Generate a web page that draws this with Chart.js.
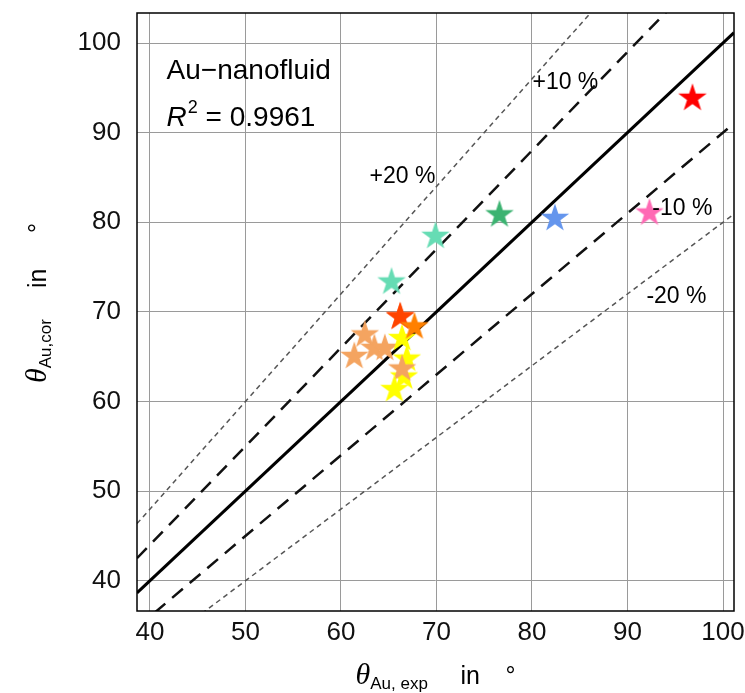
<!DOCTYPE html>
<html>
<head>
<meta charset="utf-8">
<script src="https://cdn.jsdelivr.net/npm/chart.js@4.4.1/dist/chart.umd.min.js"></script>
<style>
  body { margin: 0; background: #fff; }
  canvas { display: block; }
</style>
</head>
<body>
<canvas id="parityChart" width="745" height="693"></canvas>
<script>
// experimental vs. correlated contact angle (deg), one star per case
const expAngles = [66.2, 61.4, 62.5, 63.5, 64.6, 66.4, 66.9, 66.6, 66.4, 65.6, 66.2, 67.7, 65.3, 69.9, 76.6, 82.4, 92.3, 96.8];
const corAngles = [69.6, 65.2, 67.6, 66.1, 66.1, 67.2, 64.9, 62.9, 63.8, 61.5, 69.6, 68.5, 73.5, 78.6, 81.0, 80.6, 81.2, 94.0];
const starColors = ['#ff4500', '#f4a460', '#f4a460', '#f4a460', '#f4a460', '#ffff00', '#ffff00', '#ffff00', '#f4a460', '#ffff00',
                    '#ff4500', '#ff8000', '#66dcb4', '#66dcb4', '#3cb371', '#6495ed', '#ff69b4', '#ff0000'];

const xTicks = [40, 50, 60, 70, 80, 90, 100];
const yTicks = [40, 50, 60, 70, 80, 90, 100];
const xRange = [38.65, 101.15];
const yRange = [36.63, 103.35];

// deviation lines y = f * x
const bandFactors = [1.0, 1.1, 0.9, 1.2, 0.8];
const bandNames = ['0 %', '+10 %', '-10 %', '+20 %', '-20 %'];

const fitName = 'Au\u2212nanofluid';
const fitR2 = '0.9961';

function makeStar(color) {
    const r = 15;
    const c = document.createElement('canvas');
    c.width = c.height = 2 * r + 2;
    const g = c.getContext('2d');
    g.translate(r + 1, r + 1 + r * 0.095);
    g.beginPath();
    for (let i = 0; i < 10; i++) {
        const rad = i % 2 === 0 ? r : r * 0.382;
        const a = -Math.PI / 2 + i * Math.PI / 5;
        g.lineTo(rad * Math.cos(a), rad * Math.sin(a));
    }
    g.closePath();
    g.fillStyle = color;
    g.fill();
    return c;
}

const bandStyles = [
    { color: '#000', width: 3, dash: [] },
    { color: '#111', width: 2.5, dash: [14, 9] },
    { color: '#111', width: 2.5, dash: [14, 9] },
    { color: '#555', width: 1.5, dash: [5, 4] },
    { color: '#555', width: 1.5, dash: [5, 4] }
];

const bandDatasets = bandFactors.map((f, i) => ({
    label: bandNames[i],
    data: xRange.map(v => ({ x: v, y: f * v })),
    showLine: true,
    borderColor: bandStyles[i].color,
    borderWidth: bandStyles[i].width,
    borderDash: bandStyles[i].dash,
    pointRadius: 0,
    order: 2
}));

// label spots for the band names (data units)
const bandLabelSpots = [null, [80.05, 94.84], [92.6, 80.78], [63.0, 84.35], [91.98, 70.94]];

const annotatePlugin = {
    id: 'annotate',
    afterDraw(chart) {
        const { ctx, chartArea: a, scales: { x, y } } = chart;
        ctx.save();
        ctx.strokeStyle = '#000';
        ctx.lineWidth = 1.5;
        ctx.strokeRect(a.left, a.top, a.right - a.left, a.bottom - a.top);

        ctx.fillStyle = '#000';
        ctx.textBaseline = 'alphabetic';
        ctx.textAlign = 'left';
        ctx.font = '23px "Liberation Sans", Arial, sans-serif';
        bandLabelSpots.forEach((p, i) => {
            if (p) ctx.fillText(bandNames[i], x.getPixelForValue(p[0]), y.getPixelForValue(p[1]));
        });

        // fit info text
        let px = x.getPixelForValue(41.75);
        ctx.font = '28px "Liberation Sans", Arial, sans-serif';
        ctx.fillText(fitName, px, y.getPixelForValue(95.95));
        let py = y.getPixelForValue(90.7);
        ctx.font = 'italic 28px "Liberation Sans", Arial, sans-serif';
        ctx.fillText('R', px, py);
        px += ctx.measureText('R').width + 1;
        ctx.font = '18px "Liberation Sans", Arial, sans-serif';
        ctx.fillText('2', px, py - 13);
        px += ctx.measureText('2').width;
        ctx.font = '28px "Liberation Sans", Arial, sans-serif';
        ctx.fillText(' = ' + fitR2, px, py);

        // axis titles
        const cx = (a.left + a.right) / 2;
        const cy = (a.top + a.bottom) / 2;
        drawTitle(ctx, cx - 80, 684, 'Au, exp', 105);
        ctx.translate(46, cy);
        ctx.rotate(-Math.PI / 2);
        drawTitle(ctx, -71, 0, 'Au,cor', 95);
        ctx.restore();
    }
};

function drawTitle(ctx, sx, base, sub, inGap) {
    ctx.font = 'italic 30px "Liberation Serif", "Times New Roman", serif';
    ctx.fillText('\u03b8', sx, base);
    let p = sx + ctx.measureText('\u03b8').width;
    ctx.font = '17px "Liberation Sans", Arial, sans-serif';
    ctx.fillText(sub, p, base + 5);
    ctx.font = '25px "Liberation Sans", Arial, sans-serif';
    ctx.fillText('in', sx + inGap, base);
    ctx.fillText('\u00b0', sx + 150, base);
}

new Chart(document.getElementById('parityChart'), {
    type: 'scatter',
    data: {
        datasets: [
            {
                label: 'Au',
                data: expAngles.map((v, i) => ({ x: v, y: corAngles[i] })),
                pointStyle: starColors.map(makeStar),
                pointRadius: 15,
                order: 1
            },
            ...bandDatasets
        ]
    },
    options: {
        responsive: false,
        animation: false,
        layout: { autoPadding: false, padding: { top: 13, right: 11, left: 0, bottom: 0 } },
        plugins: { legend: { display: false }, tooltip: { enabled: false } },
        scales: {
            x: {
                min: xRange[0],
                max: xRange[1],
                afterBuildTicks: s => { s.ticks = xTicks.map(v => ({ value: v })); },
                afterFit: s => { s.height = 82; s.paddingLeft = 0; s.paddingRight = 0; },
                grid: { color: '#9a9a9a', lineWidth: 1, drawTicks: false },
                border: { display: false },
                ticks: { color: '#111', padding: 6, font: { size: 26, family: '"Liberation Sans", Arial, sans-serif' } }
            },
            y: {
                min: yRange[0],
                max: yRange[1],
                afterBuildTicks: s => { s.ticks = yTicks.map(v => ({ value: v })); },
                afterFit: s => { s.width = 137; s.paddingTop = 0; s.paddingBottom = 0; },
                grid: { color: '#9a9a9a', lineWidth: 1, drawTicks: false },
                border: { display: false },
                ticks: { color: '#111', padding: 16, font: { size: 26, family: '"Liberation Sans", Arial, sans-serif' } }
            }
        }
    },
    plugins: [annotatePlugin]
});
</script>
</body>
</html>
